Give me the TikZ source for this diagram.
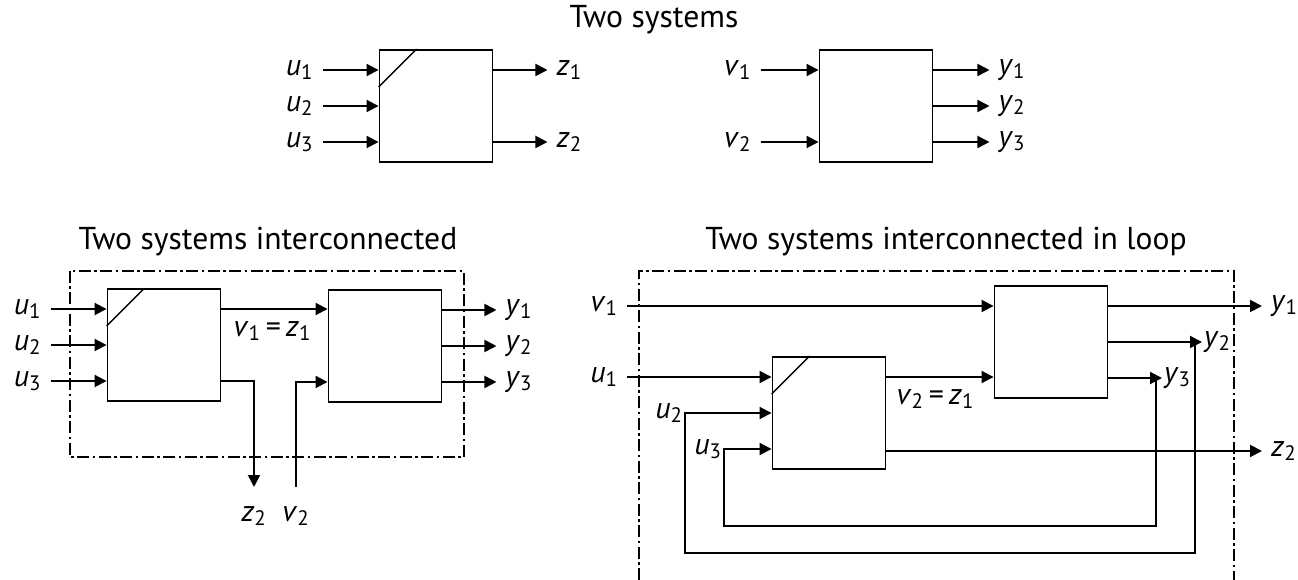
\documentclass[tikz,border=0pt]{standalone}
\usepackage{fontspec}
\setmainfont{PT Sans}
\usetikzlibrary{arrows.meta, positioning}

\newcommand{\vn}[2]{\textit{#1}\textsubscript{#2}}

\begin{document}
\begin{tikzpicture}[
  x=0.02cm, y=-0.02cm,
  font=\fontsize{17}{20}\selectfont,
  sysbox/.style={draw, line width=1.1pt, minimum width=2.26cm,
    minimum height=2.24cm, inner sep=0pt},
  sig/.style={-{Triangle[length=2.4mm, width=2.4mm]}, line width=1.1pt},
  diag/.style={line width=0.8pt},
  frame/.style={line width=0.8pt,
    dash pattern=on 2.4mm off 0.7mm on 0.5mm off 0.7mm},
  lbl/.style={inner sep=5pt},
  tip/.style={inner sep=1pt},
  title/.style={font=\fontsize{18}{22}\selectfont},
]
\useasboundingbox (0,0) rectangle (1298,580);

%% ============================================================
%% TOP - Two systems
%% ============================================================
\node[title] (ttop) at (654,20) {Two systems};

\node[sysbox] (sysA) at (436,106) {};
\node[sysbox] (sysB) at (876,106) {};
\draw[diag] ([yshift=-0.76cm]sysA.north west) -- ([xshift=0.76cm]sysA.north west);

\foreach \i/\dy in {1/0.72cm, 2/0cm, 3/-0.72cm}
{
  \node[lbl, left=1.12cm of sysA.west, yshift=\dy] (uA\i) {\vn u\i};
  \draw[sig] (uA\i) -- (uA\i -| sysA.west);
  \node[lbl, right=1.12cm of sysB.east, yshift=\dy] (yB\i) {\vn y\i};
  \draw[sig] (yB\i -| sysB.east) -- (yB\i);
}
\foreach \i/\dy in {1/0.72cm, 2/-0.72cm}
{
  \node[lbl, right=1.08cm of sysA.east, yshift=\dy] (zA\i) {\vn z\i};
  \draw[sig] (zA\i -| sysA.east) -- (zA\i);
  \node[lbl, left=1.16cm of sysB.west, yshift=\dy] (vB\i) {\vn v\i};
  \draw[sig] (vB\i) -- (vB\i -| sysB.west);
}

%% ============================================================
%% BOTTOM LEFT - Two systems interconnected
%% ============================================================
\node[title] (tcat) at (268,242) {Two systems interconnected};
\draw[frame] (70,271) rectangle (464,457);

\node[sysbox] (catA) at (164,345) {};
\node[sysbox] (catB) at (385,346) {};
\draw[diag] ([yshift=-0.76cm]catA.north west) -- ([xshift=0.76cm]catA.north west);

\foreach \i/\dy in {1/0.72cm, 2/0cm, 3/-0.72cm}
{
  \node[lbl, left=1.12cm of catA.west, yshift=\dy] (uC\i) {\vn u\i};
  \draw[sig] (uC\i) -- (uC\i -| catA.west);
  \node[lbl, right=1.08cm of catB.east, yshift=\dy] (yC\i) {\vn y\i};
  \draw[sig] (yC\i -| catB.east) -- (yC\i);
}

% v1 = z1 link
\coordinate (zC1) at ([yshift=0.72cm]catA.east);
\draw[sig] (zC1) -- (zC1 -| catB.west);
\node[tip, anchor=north west] (eqC) at ([xshift=0.2cm, yshift=-0.2cm]zC1) {\vn v1\,=\,\vn z1};

% z2 out, v2 in
\coordinate (zC2end) at (254,487);
\coordinate (vC2start) at (296,487);
\draw[sig] ([yshift=-0.72cm]catA.east) -| (zC2end);
\draw[sig] (vC2start) |- ([yshift=-0.72cm]catB.west);
\node[lbl, below=0.2cm of zC2end] (zC2) {\vn z2};
\node[lbl, below=0.2cm of vC2start] (vC2) {\vn v2};

%% ============================================================
%% BOTTOM RIGHT - Two systems interconnected in loop
%% ============================================================
\node[title] (tloop) at (946,242) {Two systems interconnected in loop};
\draw[frame] (639,580) |- (1234,271) -- (1234,580);

\node[sysbox] (loopA) at (829,413) {};
\node[sysbox] (loopB) at (1051,342) {};
\draw[diag] ([yshift=-0.76cm]loopA.north west) -- ([xshift=0.76cm]loopA.north west);

% external inputs
\node[lbl, anchor=east] (vL1) at (627,306) {\vn v1};
\node[lbl, anchor=east] (uL1) at (627,377) {\vn u1};
\draw[sig] (vL1) -- (vL1 -| loopB.west);
\draw[sig] (uL1) -- (uL1 -| loopA.west);

% v2 = z1 link
\coordinate (zL1) at ([yshift=0.72cm]loopA.east);
\draw[sig] (zL1) -- (zL1 -| loopB.west);
\node[tip, anchor=north west] (eqL) at ([xshift=0.16cm, yshift=-0.2cm]zL1) {\vn v2\,=\,\vn z1};

% outputs
\node[lbl, anchor=west] (yL1) at (1262,306) {\vn y1};
\node[lbl, anchor=west] (zL2) at (1262,451) {\vn z2};
\draw[sig] (yL1 -| loopB.east) -- (yL1);
\draw[sig] (zL2 -| loopA.east) -- (zL2);

\coordinate (yL2end) at (1202,342);
\coordinate (yL3end) at (1162,378);
\draw[sig] (yL2end -| loopB.east) -- (yL2end);
\draw[sig] (yL3end -| loopB.east) -- (yL3end);
\node[tip, anchor=west] (yL2) at (yL2end) {\vn y2};
\node[tip, anchor=west] (yL3) at (yL3end) {\vn y3};

% feedback loops
\coordinate (fbL2) at (685,553);
\coordinate (fbL3) at (724,526);
\coordinate (inL3) at ([yshift=-0.72cm]loopA.west);
\draw[sig] ([xshift=-0.14cm]yL2end) |- (fbL2) |- (loopA.west);
\draw[sig] ([xshift=-0.12cm]yL3end) |- (fbL3) |- (inL3);
\node[tip, anchor=east] (uL2) at (fbL2 |- loopA.west) {\vn u2};
\node[tip, anchor=east] (uL3) at (fbL3 |- inL3) {\vn u3};

\end{tikzpicture}
\end{document}
